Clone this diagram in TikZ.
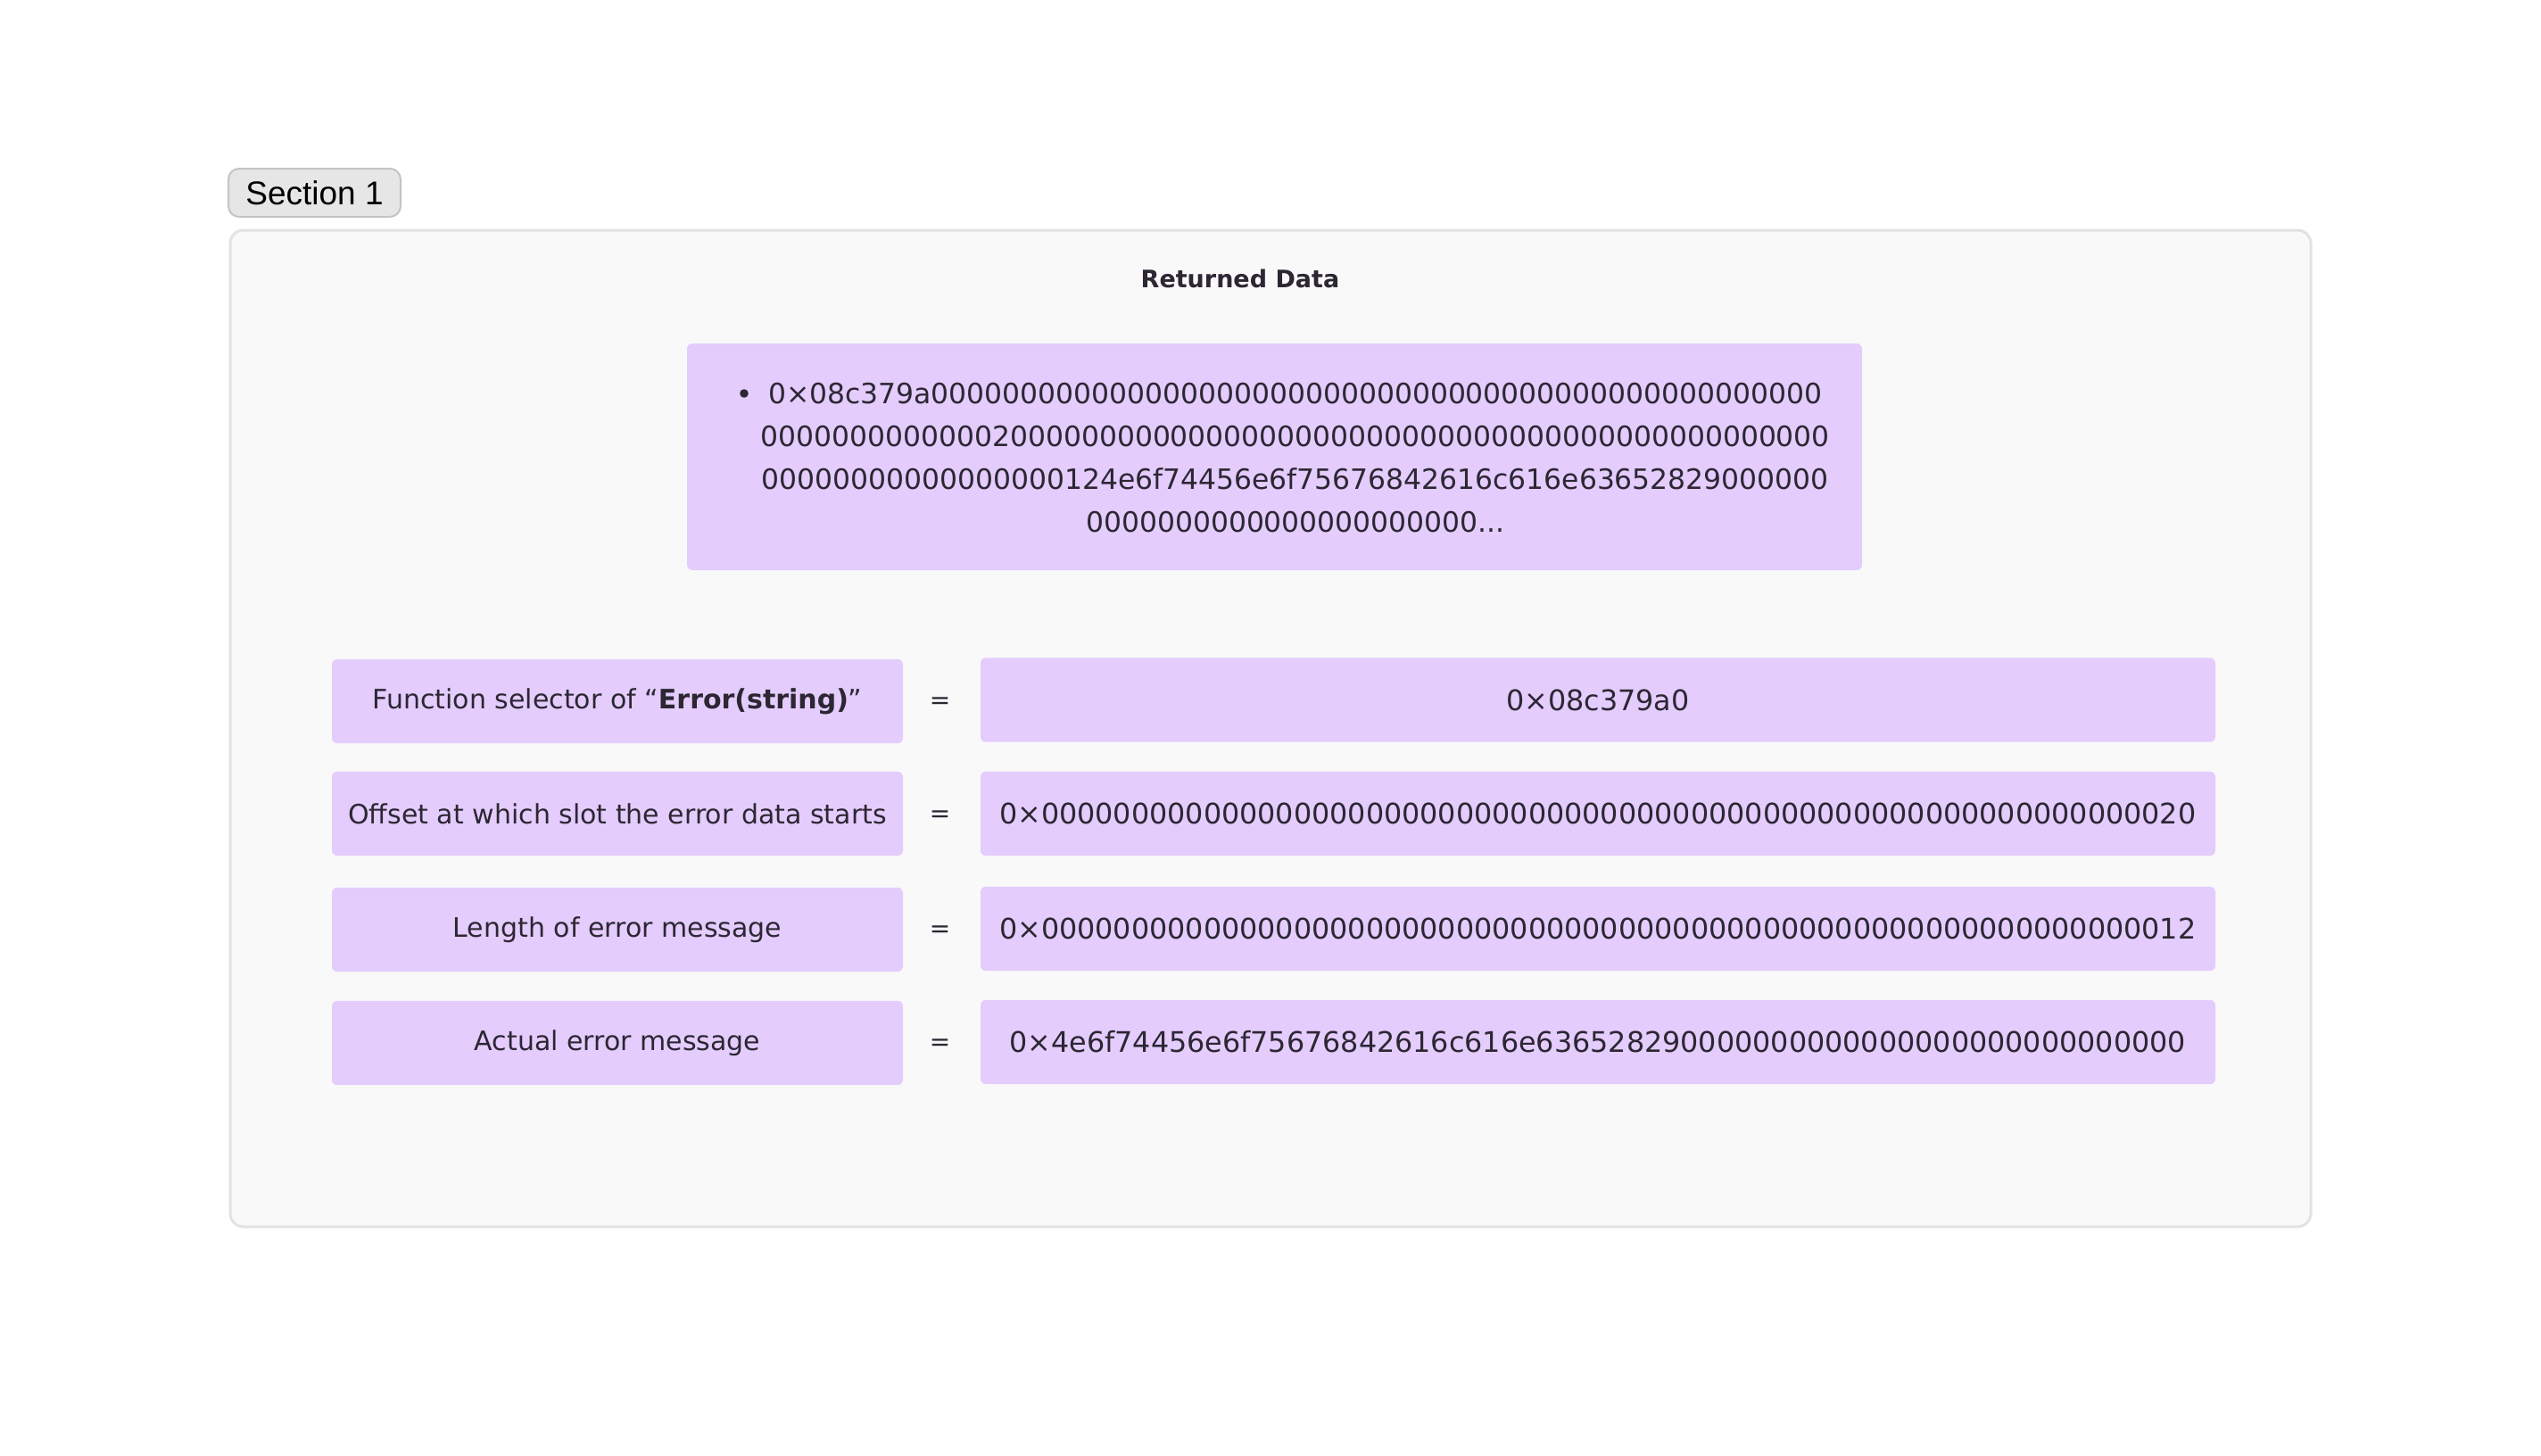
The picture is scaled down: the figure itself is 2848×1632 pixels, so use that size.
\documentclass[tikz,border=0pt]{standalone}
\usepackage{fontspec}
\setmainfont{DejaVu Sans}
\newfontfamily\tagfont{Liberation Sans}
\usetikzlibrary{positioning}
\definecolor{CPurple}{HTML}{E4CCFD}
\definecolor{CPanel}{HTML}{F9F9F9}
\definecolor{CEdge}{HTML}{E2E2E2}
\definecolor{CTag}{HTML}{E6E6E6}
\definecolor{CTagEdge}{HTML}{C4C4C4}
\definecolor{CInk}{HTML}{2C2733}

\newcommand{\hexzeros}[1]{\foreach \n in {1,...,#1}{0}}

\tikzset{
    panel/.style={draw=CEdge, line width=1.5pt, fill=CPanel, rounded corners=7.5pt},
    tagbox/.style={draw=CTagEdge, line width=1pt, fill=CTag, rounded corners=6pt, minimum width=96.5pt, minimum height=27pt, inner sep=0pt, font=\tagfont\fontsize{18.5}{22}\selectfont},
    slot/.style={fill=CPurple, rounded corners=3pt, inner sep=0pt, text=CInk},
    namebox/.style={slot, minimum width=320pt, minimum height=47.2pt, font=\fontsize{15}{18}\selectfont},
    valbox/.style={slot, minimum width=692pt, minimum height=47.2pt, font=\fontsize{15.9}{19}\selectfont},
    eqsign/.style={text=CInk, font=\fontsize{14}{17}\selectfont},
    hexline/.style={text=CInk, inner sep=0pt, font=\fontsize{15.7}{24}\selectfont}
}

\begin{document}
\begin{tikzpicture}[x=0.5pt, y=-0.5pt]
    \useasboundingbox (0,0) rectangle (2848,1632);

    % Section frame
    \draw[panel] (258,258) rectangle (2590,1375);
    \node[tagbox] (tag) at (352.5,216) {Section 1};
    \node[text=CInk, font=\bfseries\fontsize{13.5}{16}\selectfont] (title) at (1390,312) {Returned Data};

    % Raw returned data
    \node[slot, minimum width=658.5pt, minimum height=127pt] (data) at (1428.5,512) {};
    \fill[CInk] (834,441) circle (4.8);
    \node[hexline, align=center] (raw) at (1452,513) {%
        0×08c379a0\hexzeros{49}\\
        \hexzeros{13}2\hexzeros{46}\\
        \hexzeros{17}124e6f74456e6f75676842616c616e63652829\hexzeros{6}\\
        \hexzeros{22}...};

    % Decoded words
    \node[namebox] (sel) at (692,786) {Function selector of “\textbf{Error(string)}”};
    \node[eqsign] (eqsel) at (1053.5,788) {=};
    \node[valbox] (selval) at (1791,784.5) {0×08c379a0};

    \node[namebox] (off) at (692,912) {Offset at which slot the error data starts};
    \node[eqsign] (eqoff) at (1053.5,915) {=};
    \node[valbox] (offval) at (1791,912) {0×\hexzeros{62}20};

    \node[namebox] (len) at (692,1042) {Length of error message};
    \node[eqsign] (eqlen) at (1053.5,1044) {=};
    \node[valbox] (lenval) at (1791,1041) {0×\hexzeros{62}12};

    \node[namebox] (msg) at (692,1169) {Actual error message};
    \node[eqsign] (eqmsg) at (1053.5,1171) {=};
    \node[valbox] (msgval) at (1791,1168) {0×4e6f74456e6f75676842616c616e63652829\hexzeros{28}};
\end{tikzpicture}
\end{document}
